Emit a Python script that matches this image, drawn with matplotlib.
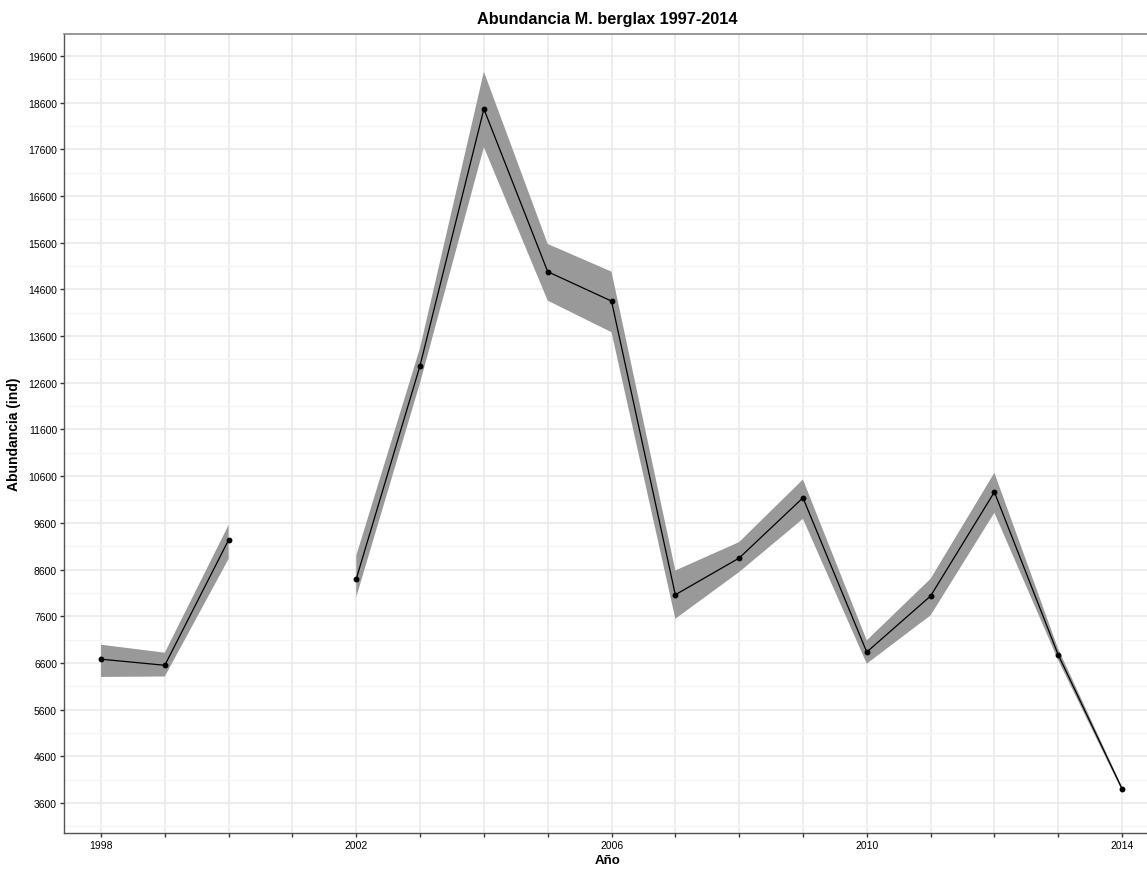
import numpy as np
import matplotlib
matplotlib.use('Agg')
import matplotlib.pyplot as plt

plt.rcParams['font.family'] = ['Liberation Sans', 'DejaVu Sans']

# Abundance estimates per survey year (2001 not sampled)
years = [1998, 1999, 2000, 2001, 2002, 2003, 2004, 2005, 2006,
         2007, 2008, 2009, 2010, 2011, 2012, 2013, 2014]
abundance = [6680, 6550, 9236, np.nan, 8400, 12970, 18465, 14980, 14350,
             8060, 8846, 10137, 6833, 8033, 10260, 6775, 3907]
lower = [6300, 6310, 8830, np.nan, 8010, 12600, 17645, 14360, 13683,
         7546, 8546, 9687, 6584, 7618, 9816, 6660, 3860]
upper = [6990, 6820, 9557, np.nan, 8900, 13350, 19264, 15574, 14981,
         8580, 9188, 10530, 7083, 8403, 10672, 6900, 3950]

y_ticks = list(range(3600, 20600, 1000))
x_labels = {1998: '1998', 2002: '2002', 2006: '2006', 2010: '2010', 2014: '2014'}

fig = plt.figure(figsize=(11.47, 8.7), dpi=100)
ax = fig.add_axes([0.0558, 0.0414, 0.948, 0.9184])

ax.fill_between(years, lower, upper, color='#999999', linewidth=0, zorder=2)
ax.plot(years, abundance, color='black', linewidth=0.9, zorder=3)
ax.plot(years, abundance, 'o', color='black', markersize=3.2, zorder=4)

ax.set_xlim(1997.42, 2014.46)
ax.set_ylim(2958, 20071)

ax.set_yticks(y_ticks)
ax.set_yticklabels([str(v) for v in y_ticks], fontsize=7.5)
ax.set_yticks([v + 500 for v in y_ticks[:-1]] + [3100], minor=True)
ax.set_xticks(years)
ax.set_xticklabels([x_labels.get(y, '') for y in years], fontsize=7.5)

ax.grid(which='major', color='#e8e8e8', linewidth=1.1, zorder=0)
ax.grid(which='minor', axis='y', color='#f4f4f4', linewidth=0.9, zorder=0)
ax.set_axisbelow(True)
ax.tick_params(which='major', length=3, width=1, color='#333333', pad=2)
ax.tick_params(which='minor', length=0)

for side in ['left', 'bottom']:
    ax.spines[side].set_color('#555555')
    ax.spines[side].set_linewidth(1.0)
for side in ['top', 'right']:
    ax.spines[side].set_color('#888888')
    ax.spines[side].set_linewidth(1.2)

ax.set_title('Abundancia M. berglax 1997-2014', fontsize=11.7, fontweight='bold', pad=8)
ax.set_ylabel('Abundancia (ind)', fontsize=10, fontweight='bold', labelpad=5)
ax.set_xlabel('Año', fontsize=9.5, fontweight='bold', labelpad=3)

plt.savefig('out.png', dpi=100, facecolor='white')
